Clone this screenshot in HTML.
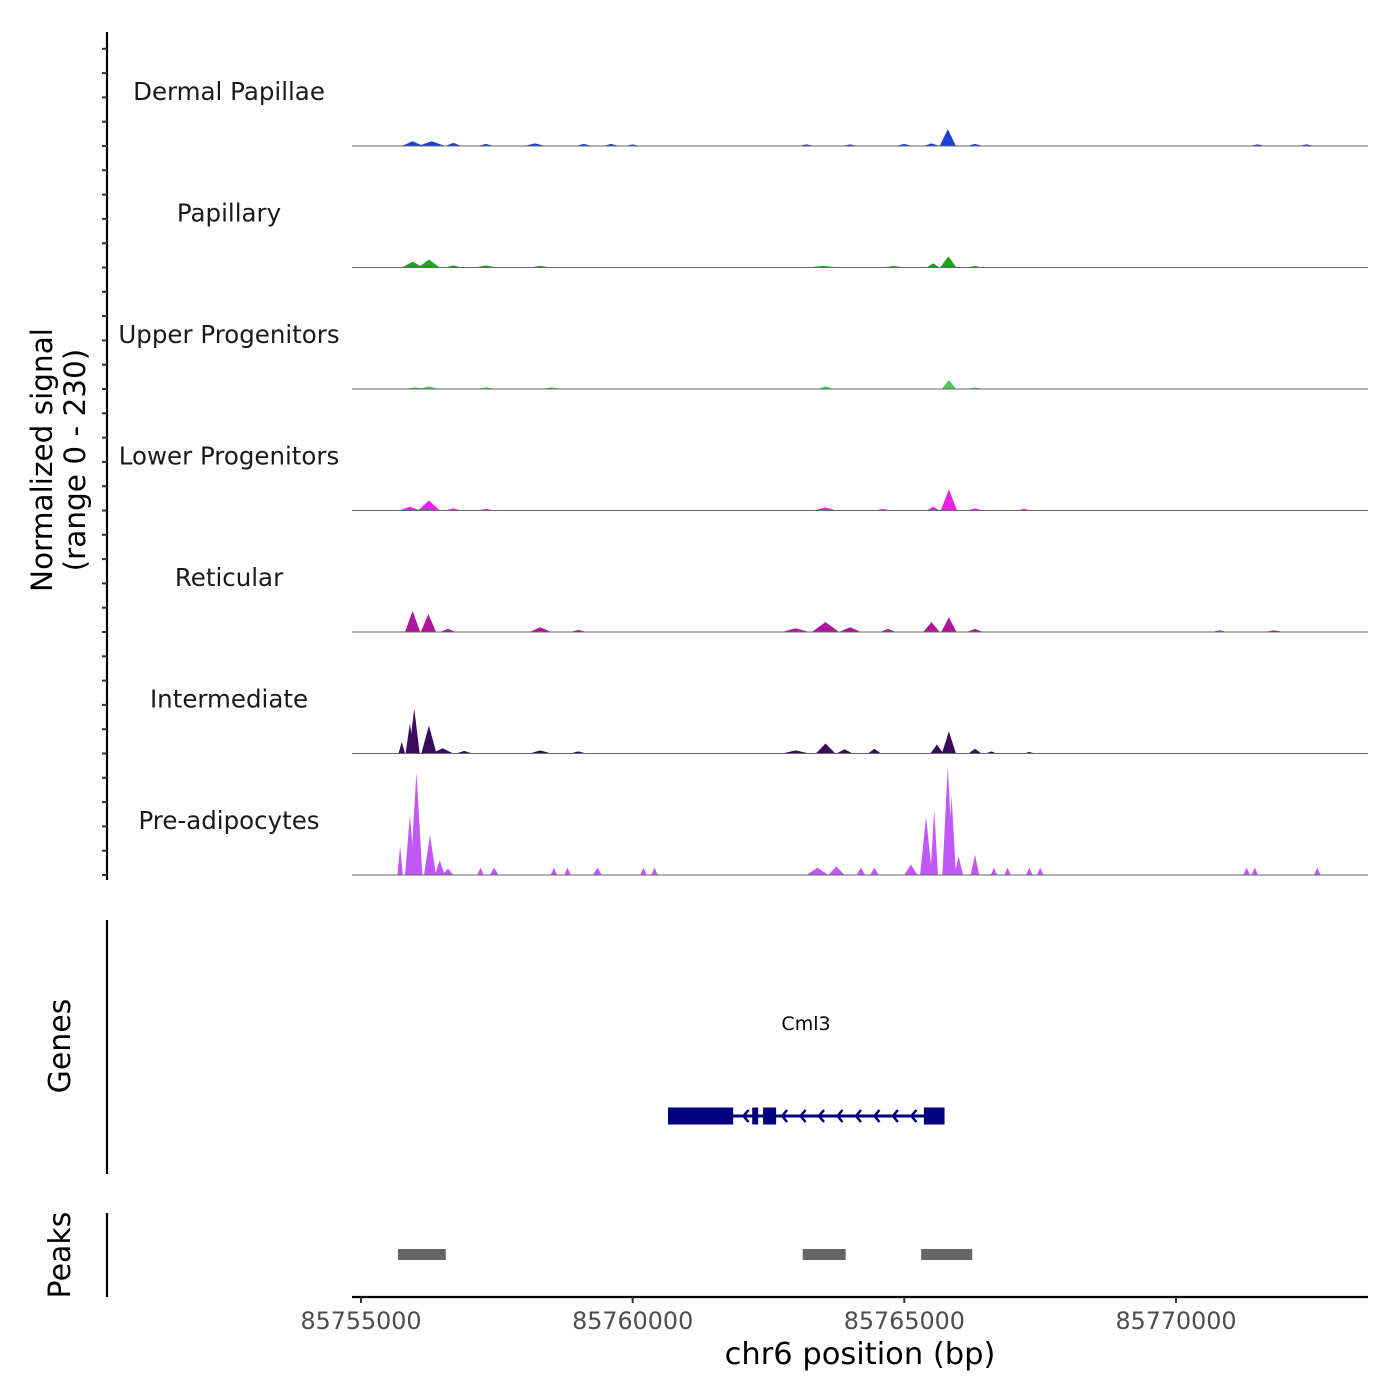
<!DOCTYPE html>
<html><head><meta charset="utf-8"><style>
body{margin:0;background:#fff}
svg{display:block;font-family:"DejaVu Sans","Liberation Sans",sans-serif}
</style></head><body>
<svg id="chart" width="1400" height="1400" viewBox="0 0 1400 1400">
<g id="tracks"></g>
<g id="axes"></g>
</svg>
<script>
const trackNames = ["Dermal Papillae","Papillary","Upper Progenitors","Lower Progenitors","Reticular","Intermediate","Pre-adipocytes"];
const trackColors = ["#1c3fd8","#1ba31b","#45cc55","#ec22e2","#b0169c","#3a0d5c","#c257f7"];
// peaks: [position bp, signal value, half-width bp]
const dermalPeaks = [[85755950,9,200],[85756300,9,250],[85756700,6,150],[85757300,4,150],[85758200,5,200],[85759100,4,150],[85759600,4,150],[85760000,3,150],[85763200,3,150],[85764000,3,150],[85765000,4,150],[85765500,5,150],[85765800,32,150],[85766300,4,150],[85771500,3,150],[85772400,3,150]];
const papillaryPeaks = [[85755950,11,200],[85756250,15,200],[85756700,4,150],[85757300,4,200],[85758300,3,200],[85763500,3,300],[85764800,3,200],[85765530,8,120],[85765810,21,150],[85766300,3,150]];
const upperPeaks = [[85756000,3,200],[85756250,5,180],[85757300,3,200],[85758500,3,200],[85763550,5,150],[85765820,17,130],[85766300,3,150]];
const lowerPeaks = [[85755900,7,200],[85756250,19,200],[85756700,4,150],[85757300,3,150],[85763550,6,200],[85764600,3,150],[85765530,7,120],[85765820,40,150],[85766300,4,150],[85767200,3,150]];
const reticularPeaks = [[85755950,40,140],[85756240,34,140],[85756600,6,150],[85758300,9,200],[85759000,4,150],[85763000,7,250],[85763550,19,250],[85764000,9,200],[85764700,6,150],[85765500,19,150],[85765820,28,140],[85766300,6,150],[85770800,3,150],[85771800,3,200]];
const intermediatePeaks = [[85755750,22,60],[85755900,57,80],[85755980,85,100],[85756250,53,140],[85756500,10,200],[85756900,5,150],[85758300,6,200],[85759000,4,150],[85763000,6,250],[85763550,19,180],[85763900,8,150],[85764450,9,120],[85765600,17,120],[85765820,42,130],[85766300,9,120],[85766600,4,100],[85767300,3,100]];
const preadipPeaks = [[85755720,55,50],[85755900,113,90],[85756020,195,110],[85756270,76,110],[85756450,28,90],[85756600,12,100],[85757200,14,60],[85757450,14,80],[85758550,14,60],[85758800,14,60],[85759350,14,80],[85760200,14,60],[85760400,14,60],[85763400,14,200],[85763750,16,150],[85764200,14,80],[85764450,14,80],[85765120,20,120],[85765400,110,110],[85765550,123,70],[85765800,206,100],[85765870,150,80],[85766000,35,80],[85766300,38,80],[85766650,14,60],[85766900,14,60],[85767300,14,60],[85767500,14,60],[85771300,14,60],[85771450,14,60],[85772600,14,60]];
const trackPeaks = [dermalPeaks,papillaryPeaks,upperPeaks,lowerPeaks,reticularPeaks,intermediatePeaks,preadipPeaks];
const xTicks = [85755000,85760000,85765000,85770000];
const geneExons = [[85760650,85761850],[85762200,85762310],[85762400,85762640],[85765360,85765740]];
const geneRange = [85760650,85765740];
const peakRegions = [[85755680,85756560],[85763130,85763920],[85765310,85766250]];

const NS="http://www.w3.org/2000/svg";
const X0=85755000, PX0=361, SCALE=815/15000;
const x = bp => PX0 + (bp - X0) * SCALE;
const base0=146, trackH=121.5, maxV=230;
const yv = (v,i) => base0 + i*trackH - v/maxV*trackH;
function mk(tag, attrs, parent){const e=document.createElementNS(NS,tag);for(const k in attrs)e.setAttribute(k,attrs[k]);parent.appendChild(e);return e;}
const tracks=document.getElementById('tracks'), axes=document.getElementById('axes');

trackNames.forEach((name,i)=>{
  const g=mk('g',{},tracks);
  
  
  const lbl=mk('text',{x:229,y:base0+i*trackH-46,'text-anchor':'middle','font-size':24.5,fill:'#1a1a1a'},g);
  lbl.textContent=name;
  
  
  trackPeaks[i].forEach(p=>{
    const b=base0+i*trackH;
    const path=mk('path',{d:`M${x(p[0]-p[2])},${b} L${x(p[0])},${yv(p[1],i)} L${x(p[0]+p[2])},${b} Z`,fill:trackColors[i]},g);
    
    
  });
  const bl=mk('line',{x1:352,x2:1368,y1:base0+i*trackH,y2:base0+i*trackH,stroke:'#666','stroke-width':1},g);
  
  
});

const la=mk('line',{x1:107,x2:107,y1:32,y2:880,stroke:'#000','stroke-width':2.2},axes);


for(let i=0;i<7;i++)for(let k=0;k<5;k++){
  const yy=base0+i*trackH-k*trackH/5;
  const t=mk('line',{x1:102,x2:107,y1:yy,y2:yy,stroke:'#333','stroke-width':2},axes);
  
  
}
const yt=mk('text',{transform:'translate(52,460) rotate(-90)','text-anchor':'middle','font-size':29.5,fill:'#000'},axes);
yt.innerHTML='<tspan x="0" dy="0">Normalized signal</tspan><tspan x="0" dy="33">(range 0 - 230)</tspan>';



const ga=mk('line',{x1:107,x2:107,y1:920,y2:1174,stroke:'#000','stroke-width':2.2},axes);


const gt=mk('text',{transform:'translate(70,1046) rotate(-90)','text-anchor':'middle','font-size':30},axes);
gt.textContent='Genes';


const gy=1116;
const gl=mk('line',{x1:x(geneRange[0]),x2:x(geneRange[1]),y1:gy,y2:gy,stroke:'#00007f','stroke-width':3},axes);


for(let bp=85762750;bp<85765300;bp+=340){
  const ax=x(bp);
  const a=mk('path',{d:`M${ax+5},${gy-6} L${ax},${gy} L${ax+5},${gy+6}`,stroke:'#00007f','stroke-width':2.5,fill:'none'},axes);
  
  
}
[85762040,85762430].forEach(bp=>{
  const a0=mk('path',{d:`M${x(bp)+5},${gy-6} L${x(bp)},${gy} L${x(bp)+5},${gy+6}`,stroke:bp>85762300?'#fff':'#00007f','stroke-width':2.5,fill:'none'},axes);
  
  
});
geneExons.forEach(e=>{
  const r=mk('rect',{x:x(e[0]),y:gy-8.5,width:x(e[1])-x(e[0]),height:17,fill:'#00007f'},axes);
  
  
});
const gn=mk('text',{x:806,y:1030,'text-anchor':'middle','font-size':19},axes);
gn.textContent='Cml3';



const pa=mk('line',{x1:107,x2:107,y1:1213,y2:1297,stroke:'#000','stroke-width':2.2},axes);


const pt=mk('text',{transform:'translate(70,1255) rotate(-90)','text-anchor':'middle','font-size':30},axes);
pt.textContent='Peaks';


peakRegions.forEach(p=>{
  const r=mk('rect',{x:x(p[0]),y:1249,width:x(p[1])-x(p[0]),height:11,fill:'#666'},axes);
  
  
});

const xa=mk('line',{x1:352,x2:1368,y1:1297,y2:1297,stroke:'#000','stroke-width':2.2},axes);


xTicks.forEach(v=>{
  const t=mk('line',{x1:x(v),x2:x(v),y1:1297,y2:1303,stroke:'#333','stroke-width':2},axes);
  
  
  const l=mk('text',{x:x(v),y:1329,'text-anchor':'middle','font-size':23.8,fill:'#4d4d4d'},axes);
  l.textContent=v;
  
  
});
const xt=mk('text',{x:860,y:1364,'text-anchor':'middle','font-size':30.5},axes);
xt.textContent='chr6 position (bp)';


</script>
</body></html>
